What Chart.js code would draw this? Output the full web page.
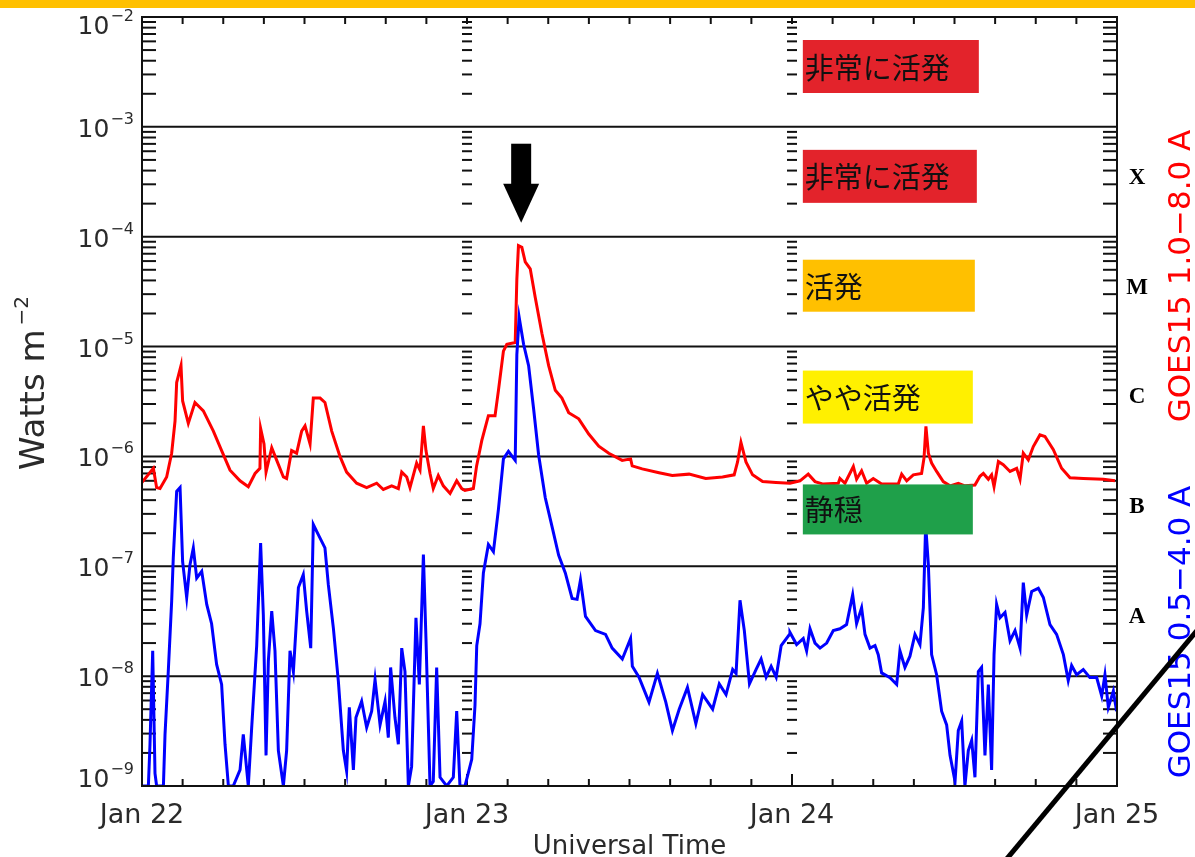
<!DOCTYPE html>
<html>
<head>
<meta charset="utf-8">
<script src="https://cdn.jsdelivr.net/npm/chart.js@4.4.1/dist/chart.umd.min.js"></script>
<style>
  html, body { margin: 0; padding: 0; background: #fff; }
  #wrap { position: relative; width: 1195px; height: 857px; }
</style>
</head>
<body>
<div id="wrap"><canvas id="goes" width="1195" height="857"></canvas></div>
<script>
// Time in hours since Jan 22 00:00 UT, flux in W m^-2
const redHours = [
  0, 0.84, 1.08, 1.33, 1.82, 2.19, 2.44, 2.56, 2.88, 3.0,
  3.42, 3.91, 4.53, 5.27, 5.88, 6.5, 7.24, 7.85, 8.35, 8.71,
  8.76, 9.01, 9.16, 9.58, 9.95, 10.44, 10.68, 11.05, 11.42, 11.79,
  12.04, 12.41, 12.65, 13.15, 13.51, 14.01, 14.62, 15.11, 15.85, 16.59,
  17.33, 17.82, 18.44, 18.93, 19.18, 19.55, 19.79, 20.28, 20.53, 20.78,
  20.97, 21.27, 21.51, 21.88, 22.25, 22.75, 23.24, 23.61,
  23.85, 24.47, 24.71, 25.09, 25.58, 26.07, 26.32, 26.69, 26.94, 27.56,
  27.68, 27.8, 28.05, 28.3, 28.67, 29.04, 29.53, 30.03, 30.52, 31.01,
  31.51, 32.25, 32.99, 33.73, 34.47, 35.46, 36.08, 36.2, 36.94, 38.18,
  39.16, 40.4, 41.63, 42.87, 43.73, 43.98, 44.23, 44.6, 45.09, 45.83,
  46.82,
  47.85, 48.59, 49.2, 49.7, 50.31, 51.42, 51.54, 51.91, 52.53, 52.77,
  53.14, 53.51, 54.0, 54.62, 55.85, 56.1, 56.47, 56.96, 57.57, 57.75,
  57.89, 58.07, 58.31, 58.68, 59.17, 59.67, 60.28, 60.77, 61.51, 61.88,
  62.13, 62.5, 62.74, 62.92, 63.24, 63.6, 64.1, 64.59, 64.84, 65.08,
  65.45, 65.82, 66.31, 66.68, 67.3, 67.91, 68.53, 69.51, 70.99, 71.85
];
const redFlux = [
  5.8e-7, 7.8e-7, 5.2e-7, 5.1e-7, 6.5e-7, 1.07e-6, 2.1e-6, 4.7e-6, 6.7e-6, 3.2e-6,
  2.0e-6, 3.1e-6, 2.6e-6, 1.7e-6, 1.13e-6, 7.5e-7, 6.0e-7, 5.3e-7, 7.0e-7, 7.8e-7,
  1.8e-6, 1.3e-6, 7.2e-7, 1.2e-6, 9.2e-7, 6.5e-7, 6.3e-7, 1.13e-6, 1.07e-6, 1.7e-6,
  1.9e-6, 1.3e-6, 3.4e-6, 3.4e-6, 3.1e-6, 1.7e-6, 1.0e-6, 7.2e-7, 5.7e-7, 5.2e-7,
  5.7e-7, 5.0e-7, 5.4e-7, 5.1e-7, 7.2e-7, 6.5e-7, 5.2e-7, 8.7e-7, 7.5e-7, 1.9e-6,
  1.13e-6, 7.0e-7, 5.1e-7, 6.7e-7, 5.4e-7, 4.6e-7, 6.0e-7, 5.1e-7,
  4.9e-7, 5.1e-7, 8.2e-7, 1.39e-6, 2.35e-6, 2.35e-6, 3.97e-6, 9.1e-6, 1.05e-5, 1.09e-5,
  4.07e-5, 8.3e-5, 8.0e-5, 5.9e-5, 5.1e-5, 2.8e-5, 1.32e-5, 6.7e-6, 4.0e-6, 3.4e-6,
  2.5e-6, 2.2e-6, 1.6e-6, 1.24e-6, 1.07e-6, 9.2e-7, 9.5e-7, 8.2e-7, 7.7e-7, 7.1e-7,
  6.7e-7, 6.9e-7, 6.3e-7, 6.5e-7, 6.8e-7, 8.9e-7, 1.34e-6, 8.9e-7, 6.8e-7, 5.9e-7,
  5.8e-7,
  5.7e-7, 6.0e-7, 6.9e-7, 5.9e-7, 5.6e-7, 5.7e-7, 6.3e-7, 5.7e-7, 8.1e-7, 6.2e-7,
  7.4e-7, 5.7e-7, 6.3e-7, 5.6e-7, 5.6e-7, 6.9e-7, 6.0e-7, 6.8e-7, 7.0e-7, 9.7e-7,
  1.88e-6, 1.07e-6, 8.7e-7, 7.3e-7, 5.9e-7, 5.4e-7, 5.7e-7, 5.4e-7, 5.5e-7, 6.6e-7,
  7.0e-7, 6.2e-7, 6.8e-7, 5.3e-7, 9.0e-7, 8.4e-7, 7.3e-7, 7.8e-7, 6.2e-7, 1.07e-6,
  9.3e-7, 1.23e-6, 1.57e-6, 1.52e-6, 1.15e-6, 7.8e-7, 6.4e-7, 6.3e-7, 6.2e-7, 6.0e-7
];
const blueHours = [
  0, 0.47, 0.59, 0.79, 0.96, 1.08, 1.58, 1.7, 1.94, 2.19,
  2.31, 2.56, 2.81, 3.0, 3.3, 3.54, 3.79, 4.04, 4.41, 4.78,
  5.14, 5.51, 5.88, 6.13, 6.38, 6.74, 7.24, 7.48, 7.85, 8.1,
  8.47, 8.76, 8.96, 9.16, 9.33, 9.58, 9.82, 10.07, 10.44, 10.68,
  10.93, 11.18, 11.55, 11.91, 12.16, 12.46, 12.65, 13.02, 13.51, 13.76,
  14.13, 14.5, 14.87, 15.11, 15.31, 15.61, 15.8, 16.22, 16.59, 16.96,
  17.21, 17.58, 17.95, 18.19, 18.36, 18.68, 18.93, 19.18, 19.42, 19.67,
  19.91, 20.23, 20.48, 20.78, 20.97, 21.27, 21.51, 21.76, 22.01, 22.5,
  22.99, 23.24, 23.48, 23.85,
  24.35, 24.59, 24.72, 24.96, 25.21, 25.58, 25.95, 26.32, 26.69, 27.06,
  27.56, 27.68, 27.85, 28.18, 28.55, 28.92, 29.29, 29.78, 30.28, 30.77,
  31.26, 31.76, 32.13, 32.38, 32.75, 33.49, 34.23, 34.72, 35.47, 36.08,
  36.21, 36.7, 37.44, 38.06, 38.68, 39.17, 39.67, 40.28, 40.9, 41.4,
  42.14, 42.63, 43.13, 43.62, 43.87, 44.16, 44.48, 44.86, 45.35, 45.72,
  46.09, 46.46, 46.83, 47.2, 47.82,
  47.85, 48.34, 48.83, 49.08, 49.33, 49.7, 50.07, 50.56, 51.05, 51.54,
  52.03, 52.48, 52.77, 53.14, 53.39, 53.76, 54.13, 54.37, 54.62, 55.24,
  55.73, 55.97, 56.34, 56.71, 57.08, 57.45, 57.7, 57.87, 58.07, 58.31,
  58.68, 59.05, 59.42, 59.67, 60.04, 60.28, 60.53, 60.77, 61.02, 61.27,
  61.51, 61.76, 62.0, 62.25, 62.5, 62.74, 62.92, 63.11, 63.36, 63.73,
  64.1, 64.47, 64.84, 65.08, 65.33, 65.7, 66.19, 66.56, 67.05, 67.54,
  68.04, 68.4, 68.65, 69.02, 69.51, 70.0, 70.5, 70.87, 71.11, 71.36,
  71.73, 71.97
];
const blueFlux = [
  1e-9, 1e-9, 2.4e-9, 1.7e-8, 1.3e-9, 1e-9, 1e-9, 2.95e-9, 1.1e-8, 4.8e-8,
  1.2e-7, 4.8e-7, 5.2e-7, 1.1e-7, 5.2e-8, 1.03e-7, 1.47e-7, 7.8e-8, 9.0e-8, 4.5e-8,
  3.0e-8, 1.28e-8, 8.4e-9, 2.4e-9, 1e-9, 1e-9, 1.4e-9, 2.95e-9, 1e-9, 3.4e-9,
  1.9e-8, 1.63e-7, 3.6e-8, 1.9e-9, 1.37e-8, 3.9e-8, 1.7e-8, 2.1e-9, 1e-9, 2.1e-9,
  1.7e-8, 1.1e-8, 6.4e-8, 8.4e-8, 3.9e-8, 1.8e-8, 2.4e-7, 1.94e-7, 1.47e-7, 6.8e-8,
  2.75e-8, 9.0e-9, 2.1e-9, 1.37e-9, 5.2e-9, 1.4e-9, 4.2e-9, 5.9e-9, 3.4e-9, 4.8e-9,
  9.3e-9, 3.6e-9, 5.9e-9, 2.75e-9, 1.2e-8, 4.2e-9, 2.4e-9, 1.8e-8, 1.1e-8, 1e-9,
  1.5e-9, 3.4e-8, 8.4e-9, 1.28e-7, 2.2e-8, 1e-9, 1.1e-9, 1.2e-8, 1.2e-9, 1e-9,
  1.2e-9, 4.8e-9, 1e-9, 1e-9,
  1.75e-9, 5.4e-9, 1.9e-8, 3.0e-8, 8.7e-8, 1.58e-7, 1.36e-7, 3.3e-7, 9.5e-7, 1.11e-6,
  9.2e-7, 8.4e-6, 1.85e-5, 1.05e-5, 6.7e-6, 2.7e-6, 1.03e-6, 4.2e-7, 2.3e-7, 1.26e-7,
  8.7e-8, 5.1e-8, 5.0e-8, 7.5e-8, 3.5e-8, 2.6e-8, 2.4e-8, 1.8e-8, 1.43e-8, 2.2e-8,
  1.23e-8, 9.8e-9, 5.8e-9, 1.06e-8, 5.8e-9, 3.2e-9, 5.0e-9, 7.9e-9, 3.7e-9, 6.8e-9,
  5.0e-9, 8.5e-9, 6.8e-9, 1.15e-8, 1.06e-8, 4.9e-8, 2.6e-8, 8.5e-9, 1.15e-8, 1.43e-8,
  9.8e-9, 1.23e-8, 9.8e-9, 1.9e-8, 2.4e-8,
  2.5e-8, 1.94e-8, 2.2e-8, 1.7e-8, 2.7e-8, 2.0e-8, 1.8e-8, 2.0e-8, 2.6e-8, 2.7e-8,
  2.95e-8, 5.5e-8, 3.0e-8, 4.2e-8, 2.4e-8, 1.8e-8, 1.9e-8, 1.57e-8, 1.07e-8, 9.7e-9,
  8.4e-9, 1.7e-8, 1.2e-8, 1.52e-8, 2.4e-8, 1.94e-8, 4.2e-8, 2.4e-7, 1.03e-7, 1.57e-8,
  1.03e-8, 4.8e-9, 3.6e-9, 1.9e-9, 1.1e-9, 3.2e-9, 3.9e-9, 1.0e-9, 2.1e-9, 2.6e-9,
  1.2e-9, 1.1e-8, 1.2e-8, 1.9e-9, 8.4e-9, 1.4e-9, 1.57e-8, 4.5e-8, 3.4e-8, 3.8e-8,
  2.1e-8, 2.6e-8, 1.8e-8, 7.1e-8, 3.6e-8, 5.9e-8, 6.3e-8, 5.2e-8, 2.95e-8, 2.4e-8,
  1.57e-8, 9.1e-9, 1.25e-8, 1.03e-8, 1.15e-8, 9.7e-9, 9.7e-9, 6.6e-9, 1.03e-8, 5.2e-9,
  7.3e-9, 4.8e-9
];

const dayLabels = ["Jan 22", "Jan 23", "Jan 24", "Jan 25"];
const decadeExponents = [-2, -3, -4, -5, -6, -7, -8, -9];
const classLetters = ["X", "M", "C", "B", "A"];
const classExponents = [-4, -5, -6, -7, -8];
const activityTexts = ["非常に活発", "非常に活発", "活発", "やや活発", "静穏"];
const activityColors = ["#E3232B", "#E3232B", "#FFC000", "#FFF000", "#1FA04A"];
const flareHour = 28.0;

const AXIS_TEXT = "#2a2a2a";

function seg(ctx, x1, y1, x2, y2) {
  ctx.beginPath();
  ctx.moveTo(x1, y1);
  ctx.lineTo(x2, y2);
  ctx.stroke();
}

// Frame, ticks, grid and annotations of the GOES plot
const goesFrame = {
  id: "goesFrame",
  beforeDatasetsDraw(chart) {
    const { ctx, chartArea: a, scales: { x, y } } = chart;
    ctx.save();
    ctx.strokeStyle = "#111";
    ctx.lineWidth = 2;
    decadeExponents.forEach(e => {
      const py = y.getPixelForValue(Math.pow(10, e));
      seg(ctx, a.left, py, a.right, py);
    });
    // minor log ticks: left, right and at the day boundaries
    for (let e = -9; e < -2; e++) {
      for (let m = 2; m <= 9; m++) {
        const py = y.getPixelForValue(m * Math.pow(10, e));
        seg(ctx, a.left, py, a.left + 14, py);
        seg(ctx, a.right - 14, py, a.right, py);
        [24, 48].forEach(h => {
          const px = x.getPixelForValue(h);
          seg(ctx, px - 5, py, px + 5, py);
        });
      }
    }
    // time ticks every 3 hours
    for (let h = 3; h < 72; h += 3) {
      const px = x.getPixelForValue(h);
      const len = h % 24 === 0 ? 12 : 7;
      seg(ctx, px, a.bottom, px, a.bottom - len);
      seg(ctx, px, a.top, px, a.top + 7);
    }
    ctx.restore();
  },
  afterDatasetsDraw(chart) {
    const { ctx, chartArea: a, scales: { x, y } } = chart;
    ctx.save();

    // activity level boxes
    const boxTop = [23, 23, 23, 24, 28];
    const boxH = [53, 53, 52, 53, 50];
    const boxW = [176, 174, 172, 170, 170];
    const bx = x.getPixelForValue(48.8);
    activityTexts.forEach((txt, i) => {
      const top = y.getPixelForValue(Math.pow(10, -2 - i)) + boxTop[i];
      ctx.fillStyle = activityColors[i];
      ctx.fillRect(bx, top, boxW[i], boxH[i]);
      ctx.fillStyle = "#111";
      ctx.font = '29px "Noto Sans CJK JP"';
      ctx.textAlign = "left";
      ctx.textBaseline = "middle";
      ctx.fillText(txt, bx + 2, top + boxH[i] / 2 + 1);
    });

    // arrow pointing at the flare peak
    const ax = x.getPixelForValue(flareHour);
    const tip = y.getPixelForValue(1e-4) - 14;
    ctx.fillStyle = "#000";
    ctx.fillRect(ax - 10, tip - 79, 20, 41);
    ctx.beginPath();
    ctx.moveTo(ax - 18, tip - 39);
    ctx.lineTo(ax + 18, tip - 39);
    ctx.lineTo(ax, tip);
    ctx.closePath();
    ctx.fill();

    // plot border
    ctx.strokeStyle = "#111";
    ctx.lineWidth = 2;
    ctx.strokeRect(a.left, a.top, a.right - a.left, a.bottom - a.top);
    ctx.restore();
  },
  afterDraw(chart) {
    const { ctx, chartArea: a, scales: { x, y } } = chart;
    ctx.save();
    ctx.fillStyle = AXIS_TEXT;

    // y tick labels 10^n
    decadeExponents.forEach(e => {
      const py = y.getPixelForValue(Math.pow(10, e));
      let base = py + 10;
      if (e === -2) base = py + 17;
      if (e === -9) base = py + 1;
      const sup = "\u2212" + (-e);
      ctx.font = '16px "DejaVu Sans"';
      const supW = ctx.measureText(sup).width;
      ctx.font = '25px "DejaVu Sans"';
      const baseW = ctx.measureText("10").width;
      const x0 = 134 - supW - baseW - 1;
      ctx.textAlign = "left";
      ctx.textBaseline = "alphabetic";
      ctx.fillText("10", x0, base);
      ctx.font = '16px "DejaVu Sans"';
      ctx.fillText(sup, x0 + baseW + 1, base - 13);
    });

    // x tick labels
    ctx.font = '27px "DejaVu Sans"';
    ctx.textAlign = "center";
    dayLabels.forEach((lbl, i) => {
      ctx.fillText(lbl, x.getPixelForValue(i * 24), 823);
    });
    ctx.font = '26px "DejaVu Sans"';
    ctx.fillText("Universal Time", (a.left + a.right) / 2, 854);

    // y axis title
    ctx.save();
    ctx.translate(44, 470);
    ctx.rotate(-Math.PI / 2);
    ctx.textAlign = "left";
    ctx.font = '34px "DejaVu Sans"';
    ctx.fillText("Watts m", 0, 0);
    const w = ctx.measureText("Watts m").width;
    ctx.font = '20px "DejaVu Sans"';
    ctx.fillText("\u22122", w + 4, -16);
    ctx.restore();

    // flare class letters
    ctx.fillStyle = "#000";
    ctx.font = 'bold 23px "Liberation Serif"';
    ctx.textAlign = "center";
    ctx.textBaseline = "middle";
    classLetters.forEach((c, i) => {
      const py = y.getPixelForValue(Math.sqrt(10) * Math.pow(10, classExponents[i])) - 4;
      ctx.fillText(c, 1137, py);
    });

    // channel titles on the right
    ctx.font = '31px "DejaVu Sans"';
    ctx.textBaseline = "alphabetic";
    [["GOES15 1.0\u22128.0 A", "#ff0000", 276], ["GOES15 0.5\u22124.0 A", "#0000ff", 632]].forEach(([t, col, cy]) => {
      ctx.save();
      ctx.translate(1190, cy);
      ctx.rotate(-Math.PI / 2);
      ctx.fillStyle = col;
      ctx.textAlign = "center";
      ctx.fillText(t, 0, 0);
      ctx.restore();
    });

    // banner strip at the top and diagonal stroke
    ctx.fillStyle = "#FFC000";
    ctx.fillRect(0, 0, 1195, 8);
    ctx.strokeStyle = "#000";
    ctx.lineWidth = 5;
    seg(ctx, 1005, 861, 1199, 628);
    ctx.restore();
  }
};

const toPoints = (hours, flux) => hours.map((h, i) => ({ x: h, y: flux[i] }));

new Chart(document.getElementById("goes"), {
  type: "line",
  data: {
    datasets: [
      {
        label: "GOES15 0.5-4.0 A",
        data: toPoints(blueHours, blueFlux),
        borderColor: "#0000ff",
        borderWidth: 3,
        order: 0
      },
      {
        label: "GOES15 1.0-8.0 A",
        data: toPoints(redHours, redFlux),
        borderColor: "#ff0000",
        borderWidth: 3,
        order: 1
      }
    ]
  },
  options: {
    responsive: false,
    animation: false,
    devicePixelRatio: 1,
    layout: { padding: { left: 142, right: 78, top: 17, bottom: 71 } },
    plugins: { legend: { display: false }, tooltip: { enabled: false } },
    elements: { point: { radius: 0 }, line: { tension: 0 } },
    scales: {
      x: { type: "linear", min: 0, max: 72, display: false },
      y: { type: "logarithmic", min: 1e-9, max: 1e-2, display: false }
    }
  },
  plugins: [goesFrame]
});
</script>
</body>
</html>
